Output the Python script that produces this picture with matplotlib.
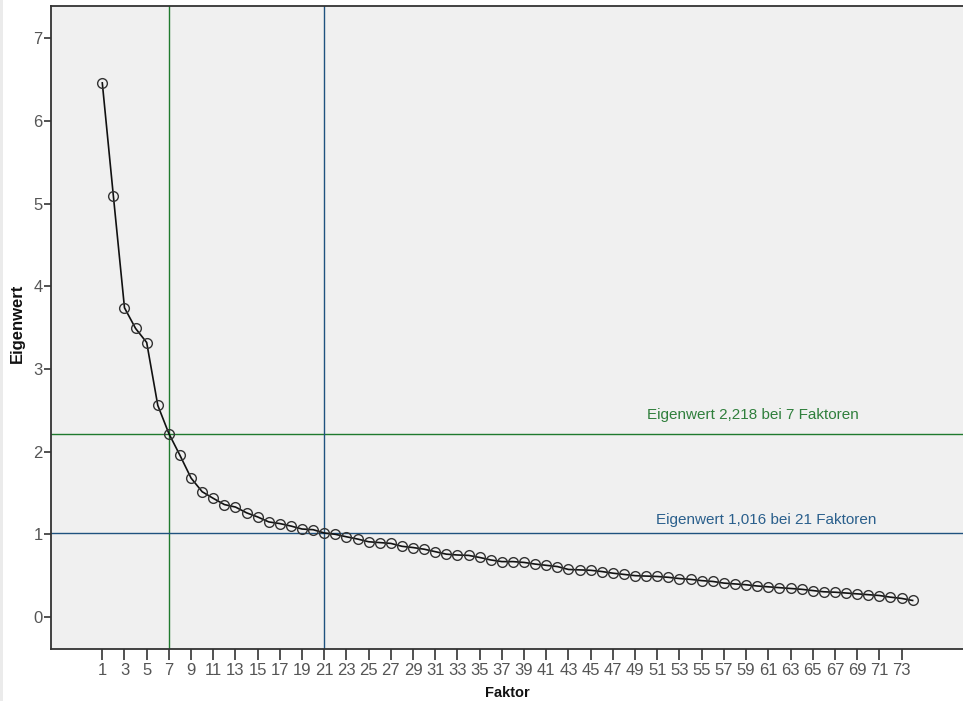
import matplotlib
matplotlib.use("Agg")
import matplotlib.pyplot as plt
from matplotlib.patches import Rectangle

# ---- data ----
factors = list(range(1, 75))
eigenvalues = [
    6.46, 5.09, 3.74, 3.49, 3.32, 2.56, 2.218, 1.955, 1.68, 1.515,
    1.435, 1.36, 1.33, 1.26, 1.21, 1.15, 1.13, 1.10, 1.064, 1.056,
    1.016, 1.00, 0.97, 0.943, 0.91, 0.90, 0.89, 0.855, 0.84, 0.82,
    0.79, 0.76, 0.75, 0.745, 0.72, 0.69, 0.67, 0.67, 0.66, 0.64,
    0.625, 0.61, 0.575, 0.57, 0.565, 0.55, 0.53, 0.515, 0.50, 0.495,
    0.49, 0.48, 0.465, 0.455, 0.44, 0.43, 0.41, 0.40, 0.39, 0.375,
    0.365, 0.355, 0.345, 0.335, 0.32, 0.305, 0.30, 0.29, 0.28, 0.27,
    0.26, 0.24, 0.225, 0.20,
]
x_ticks = list(range(1, 74, 2))
y_ticks = [0, 1, 2, 3, 4, 5, 6, 7]

ref_factor_a, ref_value_a = 7, 2.218
ref_factor_b, ref_value_b = 21, 1.016

x_label = "Faktor"
y_label = "Eigenwert"

green_line = "#1f7a2e"
green_text = "#2f7f3c"
blue_line = "#1f527f"
blue_text = "#2a5f8c"

plt.rcParams['font.family'] = ['Liberation Sans', 'DejaVu Sans']

fig = plt.figure(figsize=(9.63, 7.01), dpi=100)
fig.patch.set_facecolor("white")
fig.patches.append(Rectangle((0, 0), 3 / 963, 1, transform=fig.transFigure,
                             facecolor="#ebebeb", edgecolor="none", zorder=0))

ax = fig.add_axes([51 / 963, 52 / 701, 1 - 51 / 963, (649 - 6) / 701])
ax.set_facecolor("#f0f0f0")

ax.set_xlim(-3.62, 78.54)
ax.set_ylim(-0.387, 7.39)

# reference lines
ax.axvline(ref_factor_a, color=green_line, lw=1.0, zorder=2)
ax.axhline(ref_value_a, color=green_line, lw=1.0, zorder=2)
ax.axvline(ref_factor_b, color=blue_line, lw=1.0, zorder=2)
ax.axhline(ref_value_b, color=blue_line, lw=1.0, zorder=2)

def de(v):
    return f"{v:.3f}".replace(".", ",")

ax.text(59.6, ref_value_a + 0.22, f"Eigenwert {de(ref_value_a)} bei {ref_factor_a} Faktoren",
        color=green_text, fontsize=11, ha="center", va="center", zorder=3)
ax.text(60.8, ref_value_b + 0.155, f"Eigenwert {de(ref_value_b)} bei {ref_factor_b} Faktoren",
        color=blue_text, fontsize=11, ha="center", va="center", zorder=3)

# scree line
ax.plot(factors, eigenvalues, color="#111111", lw=1.2, zorder=4)
ax.plot(factors, eigenvalues, linestyle="none", marker="o", markersize=7,
        markerfacecolor="none", markeredgecolor="#333333", markeredgewidth=1.0, zorder=5)

ax.set_xticks(x_ticks)
ax.set_xticklabels([str(t) for t in x_ticks])
ax.set_yticks(y_ticks)
ax.set_yticklabels([str(t) for t in y_ticks])

ax.tick_params(axis="x", direction="out", length=8, width=1.2, color="#333333",
               labelsize=12, labelcolor="#555555", pad=2)
ax.tick_params(axis="y", direction="out", length=5, width=1.2, color="#333333",
               labelsize=12, labelcolor="#555555", pad=1)

for s in ["left", "bottom", "top"]:
    ax.spines[s].set_color("#333333")
    ax.spines[s].set_linewidth(1.3)
ax.spines["right"].set_visible(False)

fig.text(507 / 963, 1 - 693 / 701, x_label, fontsize=10.5, fontweight="bold",
         ha="center", va="center", color="#111111")
fig.text(17.5 / 963, 1 - 323 / 701, y_label, fontsize=12, fontweight="bold",
         ha="center", va="center", rotation=90, color="#111111")

fig.savefig("out.png", dpi=100, facecolor=fig.get_facecolor())
